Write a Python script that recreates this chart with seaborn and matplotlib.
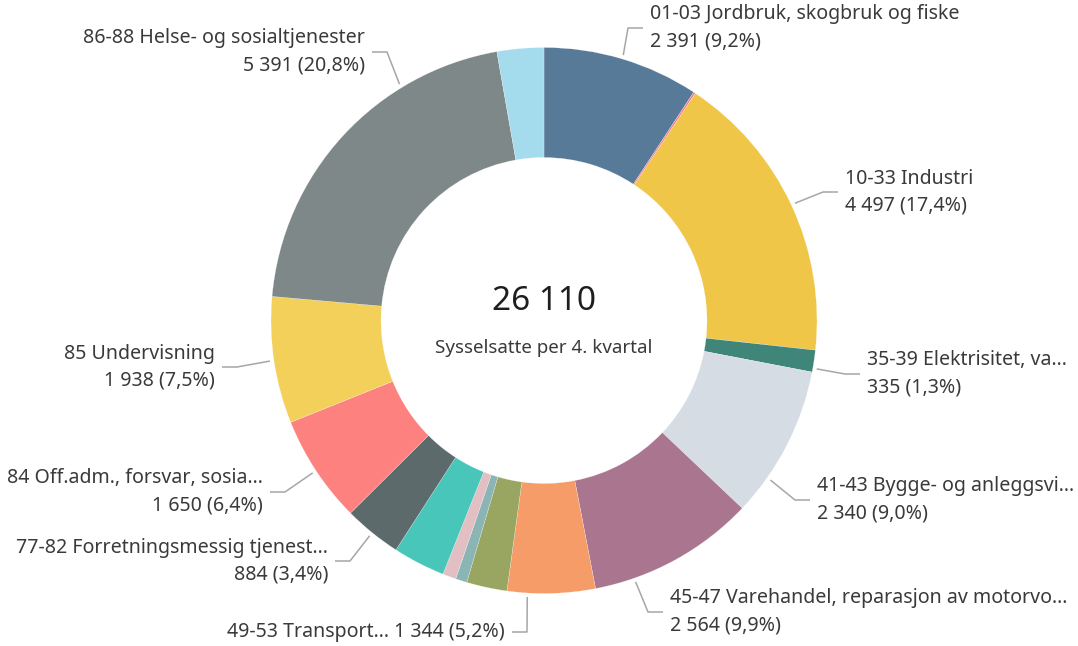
import numpy as np
import matplotlib
matplotlib.use('Agg')
import matplotlib.pyplot as plt
import seaborn as sns

sns.set_theme(style='white')
plt.rcParams['font.family'] = ['Noto Sans', 'DejaVu Sans']

# ---- data ----
total_sysselsatte = 26110
center_caption = 'Sysselsatte per 4. kvartal'

names = ['01-03 Jordbruk, skogbruk og fiske',
         '05-09 Bergverksdrift og utvinning',
         '10-33 Industri',
         '35-39 Elektrisitet, va…',
         '41-43 Bygge- og anleggsvi…',
         '45-47 Varehandel, reparasjon av motorvo…',
         '49-53 Transport…',
         '55-56 Overnattings- og serveringsvirksomhet',
         '58-63 Informasjon og kommunikasjon',
         '64-66 Finansiering og forsikring',
         '68-75 Teknisk tjenesteyting, eiendomsdrift',
         '77-82 Forretningsmessig tjenest…',
         '84 Off.adm., forsvar, sosia…',
         '85 Undervisning',
         '86-88 Helse- og sosialtjenester',
         '90-99 Personlig tjenesteyting']
values = [2391, 30, 4497, 335, 2340, 2564, 1344, 620, 175, 205, 800,
          884, 1650, 1938, 5391, 715]
colors = ['#587a99', '#f27f8e', '#f0c649', '#3f857a', '#d6dce3', '#a9758f',
          '#f59c69', '#99a661', '#8bb5b4', '#e2bfc2', '#48c6ba', '#5d6a6b',
          '#fd817e', '#f3d05a', '#7f8888', '#a4dcee']

# ---- layout (pixel coords, y down) ----
cx, cy = 544, 320.5
R, ring_w = 273, 110
# index: (angle nudge deg, elbow x, elbow y, side, one_line)
label_layout = {
    0: (0, 628, 28, 'right', False),
    2: (0, 823, 192, 'right', False),
    3: (1.5, 845, 374, 'right', False),
    4: (8, 795, 500, 'right', False),
    5: (9.4, 648, 612, 'right', False),
    6: (5, 527, 632, 'left', True),
    11: (0, 350, 561, 'left', False),
    12: (0, 285, 492, 'left', False),
    13: (0, 237, 367, 'left', False),
    14: (16, 387, 52, 'left', False),
}

fig = plt.figure(figsize=(10.78, 6.46), dpi=100)
ax = fig.add_axes([0, 0, 1, 1])

sns_pal = sns.color_palette(colors)
wedges, _ = ax.pie(values, colors=sns_pal, center=(cx, cy), radius=R,
                   startangle=-90, counterclock=True,
                   wedgeprops=dict(width=ring_w, edgecolor='white', linewidth=0.15))
ax.set_xlim(0, 1078)
ax.set_ylim(646, 0)
ax.set_aspect('equal')
ax.axis('off')

tot = sum(values)
cum = np.cumsum([0] + values[:-1])
txt_col = '#3a3a3a'
line_col = '#a6a6a6'
fs = 14.1

for i, (nudge, ex, ey, side, one_line) in label_layout.items():
    mid = (cum[i] + values[i] / 2) / tot * 360 + nudge
    t = np.radians(mid)
    sx, sy = cx + (R + 4) * np.sin(t), cy - (R + 4) * np.cos(t)
    d = 15 if side == 'right' else -15
    ax.plot([sx, ex, ex + d], [sy, ey, ey], color=line_col, lw=1.1,
            solid_capstyle='butt')
    num = f'{values[i]:,}'.replace(',', ' ')
    pct = f'{values[i] / tot * 100:.1f}'.replace('.', ',')
    second = f'{num} ({pct}%)'
    tx = ex + d + (7 if side == 'right' else -7)
    ha = 'left' if side == 'right' else 'right'
    if one_line:
        ax.text(tx, ey, f'{names[i]} {second}', ha=ha, va='center',
                fontsize=fs, color=txt_col)
    else:
        ax.text(tx, ey - 13.5, names[i], ha=ha, va='center', fontsize=fs, color=txt_col)
        ax.text(tx, ey + 13.5, second, ha=ha, va='center', fontsize=fs, color=txt_col)

ax.text(cx, 301, f'{total_sysselsatte:,}'.replace(',', ' '), ha='center',
        va='center', fontsize=24, color='#1e1e1e')
ax.text(cx, 348, center_caption, ha='center', va='center', fontsize=13.5,
        color=txt_col)

plt.savefig('out.png', dpi=100)
